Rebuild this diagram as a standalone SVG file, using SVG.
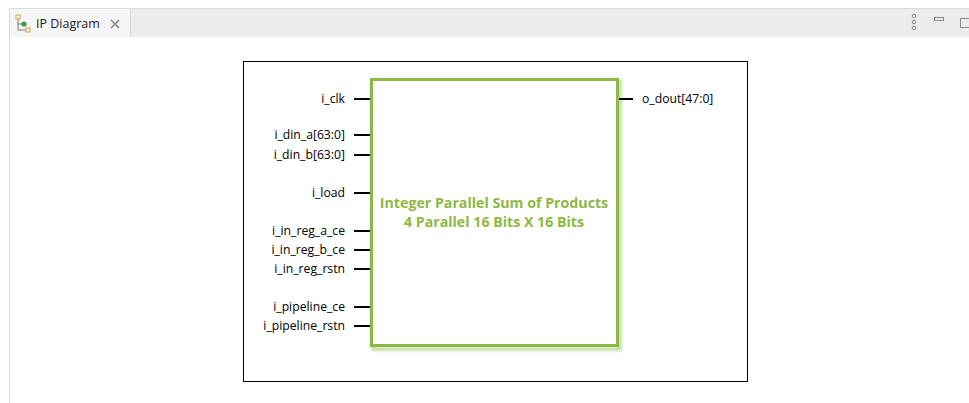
<svg xmlns="http://www.w3.org/2000/svg" width="969" height="403" viewBox="0 0 969 403">
<defs>
<style>
.pin{stroke:#000;stroke-width:2}
.lbl{font-family:"Open Sans","Noto Sans",sans-serif;font-size:12.2px;fill:#000}
.title{font-family:"Open Sans","Noto Sans",sans-serif;font-size:14.2px;font-weight:bold;fill:#8db843}
.tab{font-family:"Open Sans","Noto Sans",sans-serif;font-size:12.5px;fill:#1a1a1a}
</style>
<filter id="sh" x="-5%" y="-5%" width="110%" height="110%"><feGaussianBlur stdDeviation="1.5"/></filter>
</defs>
<rect width="969" height="403" fill="#fff"/>
<g id="chrome">
<rect x="9" y="8" width="960" height="29" fill="#ececec"/>
<line x1="9" y1="8.5" x2="969" y2="8.5" stroke="#dadada"/>
<rect x="9" y="9" width="121" height="28" fill="#f6f6f6"/>
<line x1="130.5" y1="9" x2="130.5" y2="37" stroke="#d8d8d8"/>
<line x1="9.5" y1="8" x2="9.5" y2="403" stroke="#d8d8d8"/>
<g id="tabicon">
<path d="M18 18 V30 H26 M18 24 H24" stroke="#7a7a7a" fill="none"/>
<rect x="16" y="15" width="4" height="4" fill="#fff" stroke="#c8a030"/>
<circle cx="24" cy="24" r="2.6" fill="#3c9a50"/>
<rect x="26" y="28" width="4" height="4" fill="#fff" stroke="#c8a030"/>
</g>
<text class="tab" x="36" y="28">IP Diagram</text>
<path d="M111 20 L119 28 M119 20 L111 28" stroke="#888" stroke-width="1.6"/>
<g fill="none" stroke="#8a8a8a">
<circle cx="914" cy="16" r="1.8"/><circle cx="914" cy="22" r="1.8"/><circle cx="914" cy="28" r="1.8"/>
<rect x="934.5" y="17.5" width="9" height="3"/>
<rect x="960.5" y="18.5" width="10" height="9"/>
</g>
</g>
<rect id="frame" x="243.5" y="61.5" width="504" height="320" fill="#fff" stroke="#000"/>
<g id="block">
<rect x="373" y="81" width="247" height="268" fill="none" stroke="#b5d48a" stroke-width="3" filter="url(#sh)"/>
<rect x="371.5" y="79.5" width="246" height="266" fill="#fff" stroke="#8db843" stroke-width="3"/>
<text class="title" x="494" y="208" text-anchor="middle">Integer Parallel Sum of Products</text>
<text class="title" x="494" y="227" text-anchor="middle">4 Parallel 16 Bits X 16 Bits</text>
</g>
<g id="connectors">
<line class="pin" x1="354" y1="99" x2="370" y2="99"/>
<line class="pin" x1="354" y1="135" x2="370" y2="135"/>
<line class="pin" x1="354" y1="155" x2="370" y2="155"/>
<line class="pin" x1="354" y1="193" x2="370" y2="193"/>
<line class="pin" x1="354" y1="231" x2="370" y2="231"/>
<line class="pin" x1="354" y1="250" x2="370" y2="250"/>
<line class="pin" x1="354" y1="269" x2="370" y2="269"/>
<line class="pin" x1="354" y1="307" x2="370" y2="307"/>
<line class="pin" x1="354" y1="326" x2="370" y2="326"/>
<line class="pin" x1="619" y1="99" x2="633" y2="99"/>
</g>
<g id="labels">
<text class="lbl" x="345" y="103" text-anchor="end">i_clk</text>
<text class="lbl" x="345" y="139" text-anchor="end">i_din_a[63:0]</text>
<text class="lbl" x="345" y="159" text-anchor="end">i_din_b[63:0]</text>
<text class="lbl" x="345" y="197" text-anchor="end">i_load</text>
<text class="lbl" x="345" y="235" text-anchor="end">i_in_reg_a_ce</text>
<text class="lbl" x="345" y="254" text-anchor="end">i_in_reg_b_ce</text>
<text class="lbl" x="345" y="273" text-anchor="end">i_in_reg_rstn</text>
<text class="lbl" x="345" y="311" text-anchor="end">i_pipeline_ce</text>
<text class="lbl" x="345" y="330" text-anchor="end">i_pipeline_rstn</text>
<text class="lbl" x="642" y="103">o_dout[47:0]</text>
</g>
</svg>
